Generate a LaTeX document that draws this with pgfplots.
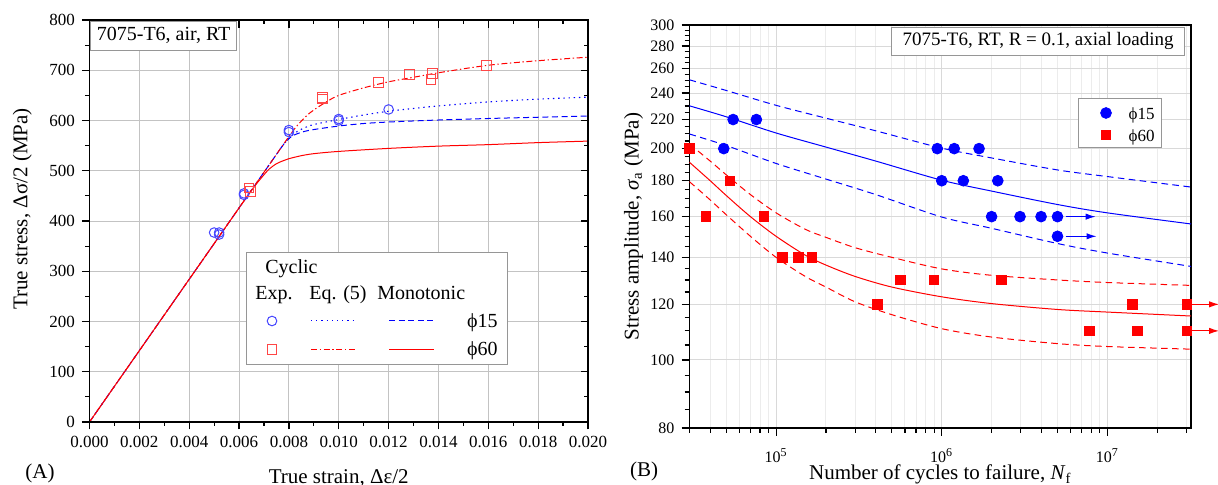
\documentclass[border=0pt]{standalone}
\usepackage{fontspec}
\setmainfont{Liberation Serif}
\usepackage{pgfplots}
\pgfplotsset{compat=1.18}
\usetikzlibrary{arrows.meta}

\definecolor{cblue}{RGB}{0,0,255}
\definecolor{cred}{RGB}{255,0,0}
\definecolor{mblue}{RGB}{70,70,255}
\definecolor{mred}{RGB}{255,70,70}
\definecolor{gridc}{RGB}{195,195,195}
\definecolor{boxc}{RGB}{150,150,150}

\newcommand{\ften}{\fontsize{10}{12}\selectfont}
\newcommand{\flab}{\fontsize{10.5}{12.5}\selectfont}

\begin{document}
\begin{tikzpicture}
\useasboundingbox (0,0) rectangle (609pt,242.5pt);

% ---------- (A) stress-strain ----------
\pgfplotsset{leftbox/.style={
  at={(44.75pt,31.5pt)}, anchor=south west,
  scale only axis, width=249.25pt, height=201pt,
  xmin=0, xmax=0.02, ymin=0, ymax=800,
  xtick distance=0.002, ytick distance=100,
  minor x tick num=1, minor y tick num=1,
  major tick length=3.75pt, minor tick length=2pt,
  axis line style={line width=0.7pt},
  every tick/.style={black, line width=0.6pt},
  scaled x ticks=false,
}}
\begin{axis}[leftbox,
  xtick pos=left, ytick pos=left, tick align=outside,
  grid=major, major grid style={gridc, line width=0.5pt},
  x tick label style={/pgf/number format/.cd, fixed, fixed zerofill, precision=3, /tikz/.cd},
  /pgf/number format/assume math mode=true,
  tick label style={font=\fontsize{8.5}{10}\selectfont},
  xlabel={True strain, Δε/2},
  ylabel={True stress, Δσ/2 (MPa)},
  label style={font=\flab},
  xlabel style={at={(axis description cs:0.5,-0.152)}, anchor=base},
  ylabel style={at={(axis description cs:-0.1345,0.53)}, anchor=center},
]
% monotonic phi15
\addplot[cblue, line width=0.5pt, dash pattern=on 3pt off 1.8pt, smooth] coordinates {
  (0,0) (0.0070,497) (0.0077,546.5) (0.0079,559) (0.0081,568) (0.0083,573)
  (0.0086,578) (0.009,582) (0.010,589) (0.011,594) (0.012,597) (0.014,601)
  (0.016,604) (0.018,606.5) (0.020,609)};
% Eq. (5) phi15
\addplot[cblue, line width=0.55pt, dash pattern=on 0.7pt off 1.9pt, smooth] coordinates {
  (0,0) (0.0070,497) (0.0077,546.5) (0.0079,559) (0.0081,569) (0.0083,577)
  (0.0086,585) (0.009,592) (0.010,602) (0.011,611) (0.012,618.5) (0.013,624)
  (0.014,629) (0.016,637) (0.018,642.5) (0.020,646.5)};
% Eq. (5) phi60
\addplot[cred, line width=0.5pt, dash pattern=on 3pt off 1.3pt on 0.7pt off 1.3pt, smooth] coordinates {
  (0,0) (0.0070,497) (0.0078,554) (0.0080,568) (0.0083,588) (0.0087,609)
  (0.009,621) (0.0095,637) (0.010,650) (0.011,665) (0.012,677) (0.013,686)
  (0.014,695) (0.016,710) (0.018,719) (0.020,726)};
% monotonic phi60
\addplot[cred, line width=0.5pt, smooth] coordinates {
  (0,0) (0.0060,426) (0.0064,454) (0.0067,474) (0.0070,492) (0.0072,503)
  (0.0075,514) (0.0078,520.5) (0.0080,524) (0.0085,530) (0.009,534)
  (0.010,538.5) (0.012,544.5) (0.014,549) (0.016,552) (0.018,556) (0.020,559)};
% experiments
\addplot[mblue, only marks, mark=o, mark size=2.4pt, mark options={line width=0.5pt}] coordinates {
  (0.0050,377) (0.0052,377) (0.0052,373) (0.0062,455) (0.0062,452)
  (0.0080,581) (0.0080,577) (0.0100,603) (0.0100,600) (0.0120,622)};
\addplot[mred, only marks, mark=square, mark size=2.4pt, mark options={line width=0.5pt}] coordinates {
  (0.0064,466) (0.00646,459) (0.00935,643) (0.00935,646) (0.0116,676)
  (0.01284,691) (0.0137,682) (0.01376,693) (0.01593,710)};
\end{axis}
\begin{axis}[leftbox,
  xtick pos=right, ytick pos=right, tick align=inside,
  xticklabels={}, yticklabels={},
]
\addplot[draw=none] coordinates {(0,0)};
\node[draw=boxc, fill=white, anchor=north west, inner sep=0pt,
  minimum width=73pt, minimum height=14.5pt, font=\ften,
  xshift=0.35pt, yshift=-0.35pt] at (rel axis cs:0,1) {7075-T6, air, RT};
\end{axis}

% custom legend of (A)
\node[draw=boxc, fill=white, inner sep=0pt, minimum width=130.5pt,
  minimum height=56pt, anchor=north west] at (123pt,116.5pt) {};
\node[anchor=base west, font=\ften, inner sep=0pt] at (132.5pt,105.5pt) {Cyclic};
\node[anchor=base west, font=\ften, inner sep=0pt] at (127.5pt,92.85pt) {Exp.};
\node[anchor=base west, font=\ften, inner sep=0pt] at (154.5pt,92.85pt) {Eq. (5)};
\node[anchor=base west, font=\ften, inner sep=0pt] at (188.5pt,92.85pt) {Monotonic};
\draw[mblue, line width=0.5pt] plot[mark=o, mark size=2.4pt] coordinates {(136pt,82pt)};
\draw[cblue, line width=0.5pt, dash pattern=on 0.6pt off 2pt] (155.5pt,82pt) -- (177.5pt,82pt);
\draw[cblue, line width=0.5pt, dash pattern=on 3pt off 1.8pt] (194.5pt,82pt) -- (217pt,82pt);
\node[anchor=base east, font=\ften, inner sep=0pt] at (249pt,78.85pt) {ϕ15};
\draw[mred, line width=0.5pt] plot[mark=square, mark size=2.4pt] coordinates {(136pt,67.85pt)};
\draw[cred, line width=0.5pt, dash pattern=on 3pt off 1.3pt on 0.7pt off 1.3pt] (155.5pt,67.85pt) -- (177.5pt,67.85pt);
\draw[cred, line width=0.5pt] (194.5pt,67.85pt) -- (217pt,67.85pt);
\node[anchor=base east, font=\ften, inner sep=0pt] at (249pt,64.5pt) {ϕ60};

\node[anchor=base west, font=\flab, inner sep=0pt] at (12.5pt,3pt) {(A)};

% ---------- (B) S-N ----------
\begin{axis}[
  at={(344.75pt,28.5pt)}, anchor=south west,
  scale only axis, width=250.75pt, height=201.5pt,
  xmode=log, ymode=log,
  xmin=3e4, xmax=3.2e7, ymin=80, ymax=300,
  xtick={1e5,1e6,1e7},
  xticklabels={10\textsuperscript{5},10\textsuperscript{6},10\textsuperscript{7}},
  minor xtick={3e4,4e4,5e4,6e4,7e4,8e4,9e4,2e5,3e5,4e5,5e5,6e5,7e5,8e5,9e5,
    2e6,3e6,4e6,5e6,6e6,7e6,8e6,9e6,2e7,3e7},
  ytick={80,100,120,140,160,180,200,220,240,260,280,300},
  yticklabels={80,100,120,140,160,180,200,220,240,260,280,300},
  minor ytick={85,90,95,105,110,115,125,130,135,145,150,155,165,170,175,
    185,190,195,205,210,215,225,230,235,245,250,255,265,270,275,285,290,295},
  xtick pos=left, ytick pos=left, tick align=outside,
  major tick length=4pt, minor tick length=2.5pt,
  every tick/.style={black, line width=0.6pt},
  axis line style={line width=0.7pt},
  xmajorgrids, xminorgrids, ymajorgrids,
  major grid style={gray!30, line width=0.5pt},
  minor grid style={gray!15, line width=0.5pt},
  tick label style={font=\fontsize{8}{9.5}\selectfont},
  xticklabel style={yshift=-3pt},
  clip=false,
  xlabel={Number of cycles to failure, \textit{N}\textsubscript{f}},
  ylabel={Stress amplitude, \textit{σ}\textsubscript{a} (MPa)},
  label style={font=\flab},
  xlabel style={at={(axis description cs:0.5,-0.129)}, anchor=base},
  ylabel style={at={(axis description cs:-0.1116,0.5)}, anchor=center},
]
% phi15 curves
\addplot[cblue, line width=0.5pt, smooth] coordinates {
  (3e4,230.1) (5e4,222) (1e5,210.5) (2e5,201) (4e5,192) (1e6,180.3)
  (2e6,174) (5e6,166.5) (1e7,162) (3.2e7,156.2)};
\addplot[cblue, line width=0.5pt, dash pattern=on 3.3pt off 2.2pt, smooth] coordinates {
  (3e4,250.6) (5e4,242) (1e5,230.5) (2e5,221) (4e5,212) (1e6,200.3)
  (2e6,194) (5e6,186.5) (1e7,182.5) (3.2e7,176.3)};
\addplot[cblue, line width=0.5pt, dash pattern=on 3.3pt off 2.2pt, smooth] coordinates {
  (3e4,209.8) (5e4,202) (1e5,190.5) (2e5,181) (4e5,172) (1e6,159.8)
  (2e6,154) (5e6,146.5) (1e7,142) (3.2e7,135.9)};
% phi60 curves
\addplot[cred, line width=0.5pt, smooth] coordinates {
  (3e4,191.2) (4e4,180) (5e4,171.5) (7e4,160) (1e5,150) (1.5e5,141)
  (2e5,136.5) (3e5,131.5) (5e5,127) (1e6,123) (2e6,120.3) (5e6,118)
  (1e7,117) (3.2e7,115.5)};
\addplot[cred, line width=0.5pt, dash pattern=on 3.3pt off 2.2pt, smooth] coordinates {
  (3e4,203) (4e4,192) (5e4,183.5) (7e4,172) (1e5,162) (1.5e5,153.5)
  (2e5,149.5) (3e5,144.5) (5e5,140) (1e6,134.8) (2e6,132) (5e6,130)
  (1e7,128.9) (3.2e7,127.7)};
\addplot[cred, line width=0.5pt, dash pattern=on 3.3pt off 2.2pt, smooth] coordinates {
  (3e4,179.4) (4e4,169) (5e4,161) (7e4,150) (1e5,140) (1.5e5,131.5)
  (2e5,127) (3e5,121) (5e5,116) (1e6,110.8) (2e6,107.8) (5e6,105.5)
  (1e7,104.5) (3.2e7,103.6)};
% run-out arrows
\addplot[cblue, line width=0.6pt, -{Latex[length=5pt,width=3.2pt]}] coordinates {(5.6e6,160) (8.5e6,160)};
\addplot[cblue, line width=0.6pt, -{Latex[length=5pt,width=3.2pt]}] coordinates {(5.6e6,150) (8.6e6,150)};
\addplot[cred, line width=0.6pt, -{Latex[length=5pt,width=3.2pt]}] coordinates {(3.15e7,120) (4.73e7,120)};
\addplot[cred, line width=0.6pt, -{Latex[length=5pt,width=3.2pt]}] coordinates {(3.15e7,110) (4.73e7,110)};
% data
\addplot[cblue, only marks, mark=*, mark size=2.7pt] coordinates {
  (4.83e4,200) (5.5e4,220) (7.6e4,220) (9.4e5,200) (1.19e6,200) (1.68e6,200)
  (1.0e6,180) (1.35e6,180) (2.18e6,180) (2.0e6,160) (2.97e6,160) (3.98e6,160)
  (5.0e6,160) (5.0e6,150)};
\addplot[cred, only marks, mark=square*, mark size=2.4pt] coordinates {
  (3.0e4,200) (3.77e4,160) (5.26e4,180) (8.46e4,160) (1.09e5,140) (1.36e5,140)
  (1.64e5,140) (4.1e5,120) (5.65e5,130) (8.98e5,130) (2.29e6,130) (7.78e6,110)
  (1.42e7,120) (1.52e7,110) (3.02e7,120) (3.02e7,110)};
\node[draw=boxc, fill=white, anchor=north east, inner sep=0pt,
  minimum width=146.5pt, minimum height=14pt, font=\fontsize{9.5}{11}\selectfont]
  at (rel axis cs:0.988,0.996) {7075-T6, RT, R = 0.1, axial loading};
\end{axis}

% legend of (B)
\node[draw=boxc, fill=white, inner sep=0pt, minimum width=41.5pt,
  minimum height=24.5pt, anchor=north west] at (539pt,193.65pt) {};
\draw[cblue] plot[mark=*, mark size=2.7pt] coordinates {(553pt,186pt)};
\draw[cred] plot[mark=square*, mark size=2.4pt] coordinates {(553pt,175pt)};
\node[anchor=base east, font=\fontsize{8.5}{10}\selectfont, inner sep=0pt] at (577.5pt,182.85pt) {ϕ15};
\node[anchor=base east, font=\fontsize{8.5}{10}\selectfont, inner sep=0pt] at (577.5pt,171.65pt) {ϕ60};

\node[anchor=base west, font=\flab, inner sep=0pt] at (314.8pt,4pt) {(B)};
\end{tikzpicture}
\end{document}
